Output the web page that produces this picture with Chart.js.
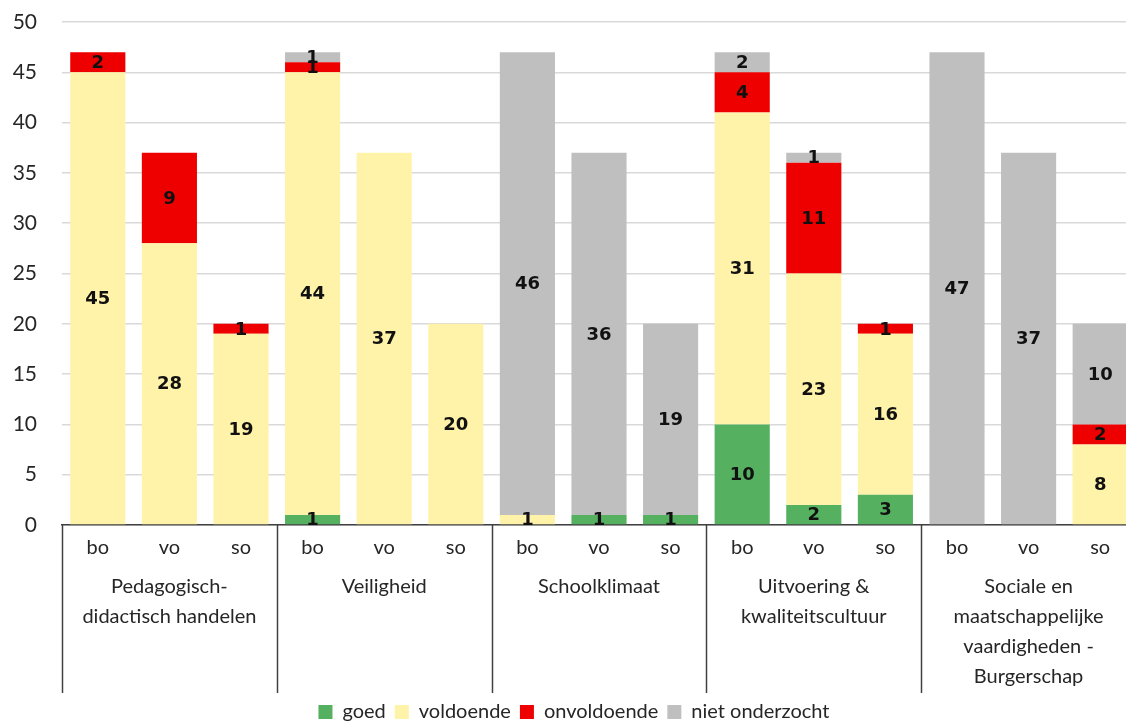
<!DOCTYPE html>
<html>
<head>
<meta charset="utf-8">
<script src="https://cdn.jsdelivr.net/npm/chart.js@4"></script>
<style>
  html, body { margin: 0; padding: 0; background: #fff; overflow: hidden; }
  #wrap { width: 1136px; height: 724px; }
</style>
</head>
<body>
<div id="wrap"><canvas id="chart"></canvas></div>
<script>
const groups = [
    ['Pedagogisch-', 'didactisch handelen'],
    ['Veiligheid'],
    ['Schoolklimaat'],
    ['Uitvoering &', 'kwaliteitscultuur'],
    ['Sociale en', 'maatschappelijke', 'vaardigheden -', 'Burgerschap']
];
const sectors = ['bo', 'vo', 'so'];

const goed        = [0, 0, 0,   1, 0, 0,   0, 1, 1,    10, 2, 3,   0, 0, 0];
const voldoende   = [45, 28, 19, 44, 37, 20, 1, 0, 0,   31, 23, 16, 0, 0, 8];
const onvoldoende = [2, 9, 1,   1, 0, 0,   0, 0, 0,    4, 11, 1,   0, 0, 2];
const nietOnderzocht = [0, 0, 0, 1, 0, 0,  46, 36, 19,  2, 1, 0,   47, 37, 10];

const yMax = 50;
const yStep = 5;

const labels = [];
groups.forEach(() => sectors.forEach(s => labels.push(s)));

const font = 'Lato, "Open Sans", sans-serif';
const textColor = '#262626';

// draws the values in the middle of each segment
const valueLabels = {
    id: 'valueLabels',
    afterDatasetsDraw(chart) {
        const ctx = chart.ctx;
        ctx.save();
        ctx.font = 'bold 18px "DejaVu Sans", sans-serif';
        ctx.fillStyle = '#111';
        ctx.textAlign = 'center';
        ctx.textBaseline = 'middle';
        chart.data.datasets.forEach((ds, i) => {
            chart.getDatasetMeta(i).data.forEach((bar, j) => {
                const v = ds.data[j];
                if (!v) return;
                ctx.fillText(v, bar.x, (bar.y + bar.base) / 2 + 1);
            });
        });
        ctx.restore();
    }
};

// group names and the vertical lines between the groups below the axis
const groupAxis = {
    id: 'groupAxis',
    afterDraw(chart) {
        const x = chart.scales.x;
        const x2 = chart.scales.x2;
        const step = x.getPixelForValue(1) - x.getPixelForValue(0);
        const ctx = chart.ctx;
        ctx.save();
        ctx.strokeStyle = '#404040';
        ctx.lineWidth = 1.5;
        for (let g = 0; g <= groups.length; g++) {
            const px = Math.round(x.getPixelForValue(g * sectors.length) - step / 2) + 0.5;
            ctx.beginPath();
            ctx.moveTo(px, chart.chartArea.bottom);
            ctx.lineTo(px, x2.bottom);
            ctx.stroke();
        }
        ctx.font = '20px ' + font;
        ctx.fillStyle = textColor;
        ctx.textAlign = 'center';
        ctx.textBaseline = 'middle';
        groups.forEach((lines, g) => {
            const cx = x2.getPixelForValue(g);
            lines.forEach((line, k) => ctx.fillText(line, cx, x2.top + 16 + k * 30));
        });
        ctx.restore();
    }
};

new Chart(document.getElementById('chart'), {
    type: 'bar',
    data: {
        labels: labels,
        datasets: [
            { label: 'goed', data: goed, backgroundColor: '#55b160' },
            { label: 'voldoende', data: voldoende, backgroundColor: '#fff2a9' },
            { label: 'onvoldoende', data: onvoldoende, backgroundColor: '#ee0000' },
            { label: 'niet onderzocht', data: nietOnderzocht, backgroundColor: '#bfbfbf' }
        ]
    },
    options: {
        responsive: true,
        maintainAspectRatio: false,
        animation: false,
        layout: { padding: { top: 0, left: 12, right: 0, bottom: -8 } },
        datasets: {
            bar: { categoryPercentage: 1, barPercentage: 0.77 }
        },
        plugins: {
            legend: {
                position: 'bottom',
                labels: {
                    boxWidth: 14,
                    boxHeight: 14,
                    padding: 9,
                    color: textColor,
                    font: { family: font, size: 20 }
                }
            },
            tooltip: { enabled: false }
        },
        scales: {
            x: {
                stacked: true,
                weight: 1,
                grid: { display: false, drawTicks: false },
                border: { display: true, color: '#404040', width: 1.5 },
                ticks: {
                    color: textColor,
                    padding: 11,
                    maxRotation: 0,
                    autoSkip: false,
                    font: { family: font, size: 20 }
                }
            },
            x2: {
                type: 'category',
                labels: groups.map((g, i) => String(i)),
                position: 'bottom',
                weight: 2,
                offset: true,
                afterFit(scale) { scale.height = 122; },
                grid: { display: false, drawTicks: false },
                border: { display: false },
                ticks: { display: false }
            },
            y: {
                stacked: true,
                min: 0,
                max: yMax,
                afterFit(scale) {
                    scale.width = 50;
                    scale.paddingTop = 22;
                    scale.paddingBottom = 0;
                },
                grid: { color: '#d9d9d9', drawTicks: false, lineWidth: 1.5 },
                border: { display: false },
                ticks: {
                    stepSize: yStep,
                    color: textColor,
                    padding: 25,
                    font: { family: font, size: 21 }
                }
            }
        }
    },
    plugins: [valueLabels, groupAxis]
});
</script>
</body>
</html>
